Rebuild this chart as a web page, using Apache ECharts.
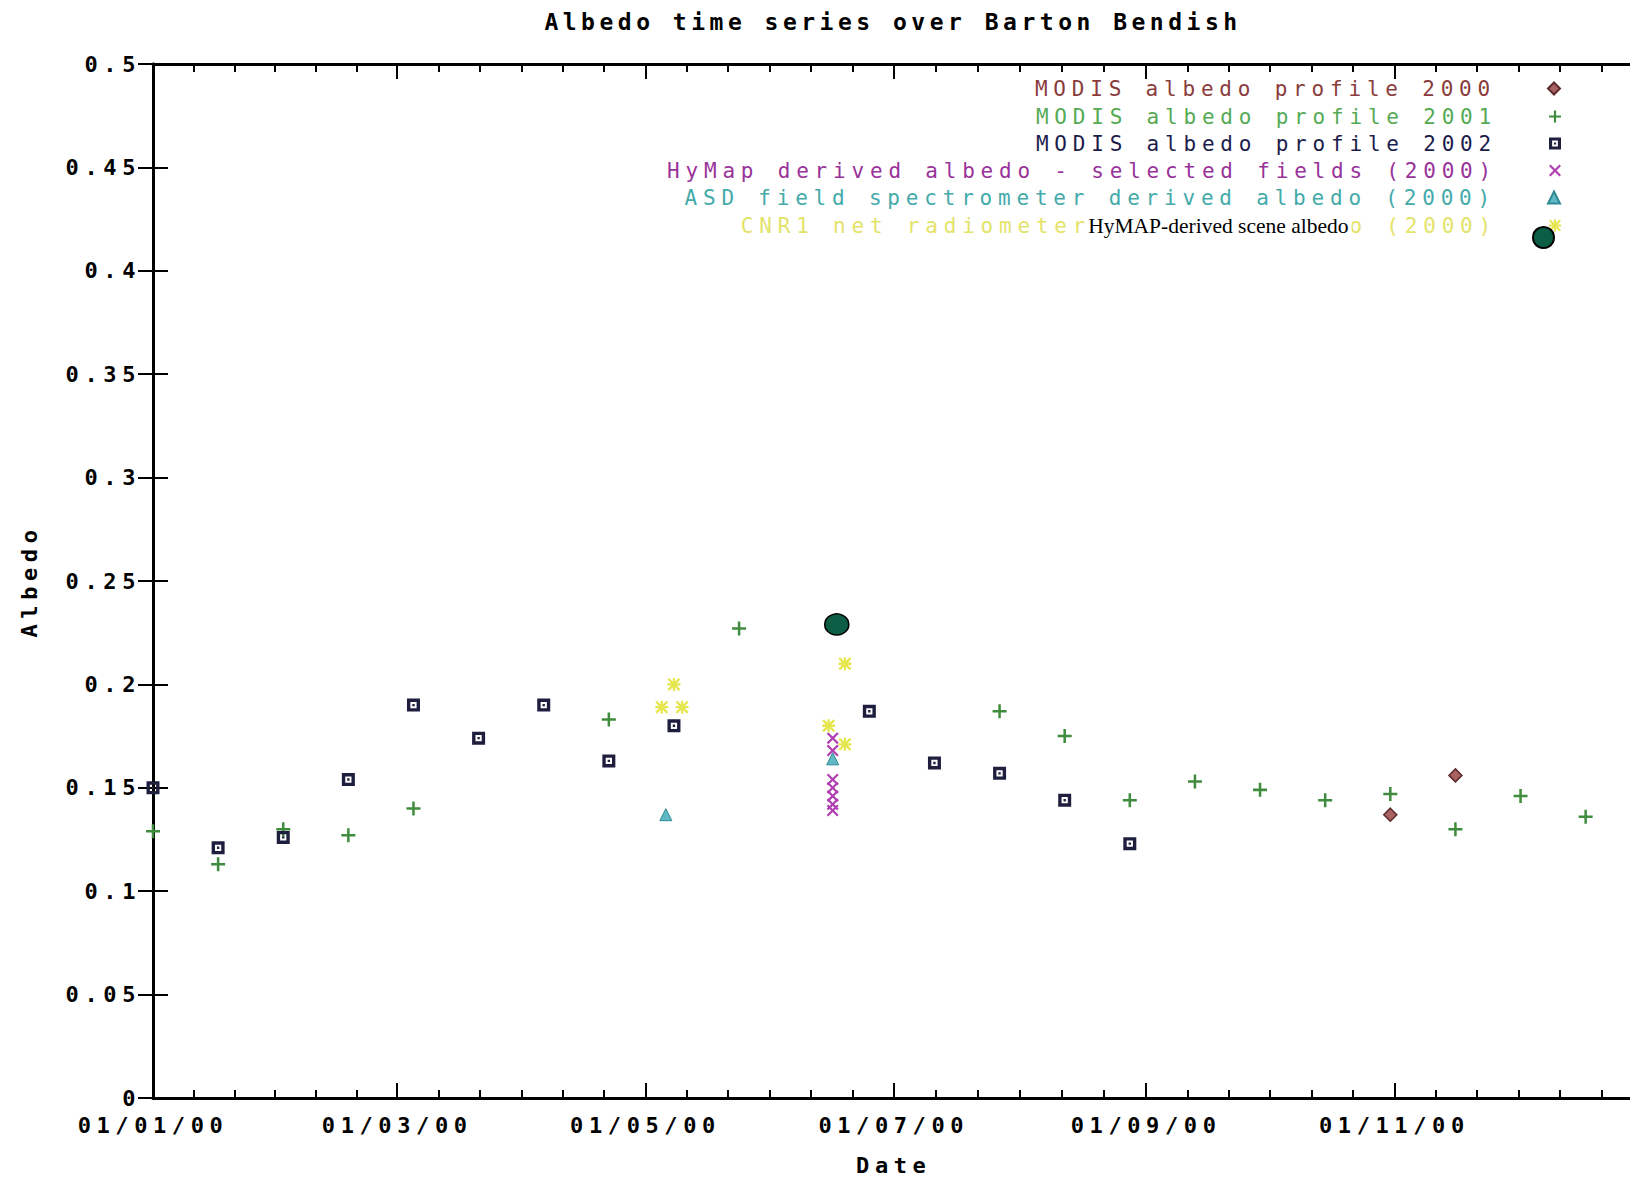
<!DOCTYPE html>
<html>
<head>
<meta charset="utf-8">
<title>Albedo time series over Barton Bendish</title>
<script src="https://cdn.jsdelivr.net/npm/echarts@6.0.0/dist/echarts.min.js"></script>
<style>
  html, body { margin: 0; padding: 0; background: #fff; }
  #chart { width: 1630px; height: 1179px; }
  /* the old gnuplot gif font is very wide, so open up the mono text */
  #chart text[style*="Mono"] { letter-spacing: 5.6px; }
  #chart text[style*="Mono"][style*="21px"] { letter-spacing: 5.8px; }
  #chart text[style*="Mono"][style*="23px"] { letter-spacing: 4.5px; }
</style>
</head>
<body>
<div id="chart"></div>
<script>
// MODIS 16-day composites, x given as day of year
const modisDoy2000 = [305, 321];
const modisVal2000 = [0.137, 0.156];
const modisDoy2001 = [1, 17, 33, 49, 65, 113, 145, 209, 225, 241, 257, 273, 289, 305, 321, 337, 353];
const modisVal2001 = [0.129, 0.113, 0.130, 0.127, 0.140, 0.183, 0.227, 0.187, 0.175, 0.144, 0.153, 0.149, 0.144, 0.147, 0.130, 0.146, 0.136];
const modisDoy2002 = [1, 17, 33, 49, 65, 81, 97, 113, 129, 177, 193, 209, 225, 241];
const modisVal2002 = [0.150, 0.121, 0.126, 0.154, 0.190, 0.174, 0.190, 0.163, 0.180, 0.187, 0.162, 0.157, 0.144, 0.123];

// field campaign 2000
const hymapDates = ['2000-06-16', '2000-06-16', '2000-06-16', '2000-06-16', '2000-06-16', '2000-06-16', '2000-06-16'];
const hymapVals = [0.174, 0.168, 0.154, 0.150, 0.146, 0.142, 0.139];
const asdDates = ['2000-05-06', '2000-06-16'];
const asdVals = [0.137, 0.164];
const cnr1Dates = ['2000-05-05', '2000-05-08', '2000-05-10', '2000-06-15', '2000-06-19', '2000-06-19'];
const cnr1Vals = [0.189, 0.200, 0.189, 0.180, 0.210, 0.171];
const sceneDates = ['2000-06-17'];
const sceneVals = [0.229];

// month ticks (the last one is only used for the minor ticks), axis ends late Dec
const tickDates = ['2000-01-01', '2000-03-01', '2000-05-01', '2000-07-01', '2000-09-01', '2000-11-01', '2001-01-01'];
const axisEnd = '2000-12-30';

const seriesNames = [
  'MODIS albedo profile 2000',
  'MODIS albedo profile 2001',
  'MODIS albedo profile 2002',
  'HyMap derived albedo - selected fields (2000)',
  'ASD field spectrometer derived albedo (2000)',
  'CNR1 net radiometer derived albedo (2000)',
  'HyMAP-derived scene albedo'
];

const MONO = 'DejaVu Sans Mono';
const T0 = Date.parse('2000-01-01');
const dayOf = s => (Date.parse(s) - T0) / 864e5;
const fromDoy = (doys, vals) => doys.map((d, i) => [d - 1, vals[i]]);
const fromDates = (dates, vals) => dates.map((d, i) => [dayOf(d), vals[i]]);

const xMax = dayOf(axisEnd);
const allMajor = tickDates.map(dayOf);
const majorDays = allMajor.filter(d => d <= xMax);
const minorDays = [];
for (let i = 0; i < allMajor.length - 1; i++) {
  const a = allMajor[i], b = allMajor[i + 1];
  for (let k = 1; k < 6; k++) {
    const m = a + (b - a) * k / 6;
    if (m < xMax) minorDays.push(m);
  }
}

function fmtDay(v) {
  const d = new Date(T0 + v * 864e5);
  const p = n => String(n).padStart(2, '0');
  return p(d.getUTCDate()) + '/' + p(d.getUTCMonth() + 1) + '/' + p(d.getUTCFullYear() % 100);
}

// marker shapes like the gnuplot points
const SQUARE = 'path://M0 0H10V10H0Z M2.6 2.6V7.4H7.4V2.6Z M4.1 4.1H5.9V5.9H4.1Z';
const PLUS_P = 'M4.1 0H5.9V4.1H10V5.9H5.9V10H4.1V5.9H0V4.1H4.1Z';
const CROSS_P = 'M0 1.3L1.3 0L5 3.7L8.7 0L10 1.3L6.3 5L10 8.7L8.7 10L5 6.3L1.3 10L0 8.7L3.7 5Z';
const PLUS = 'path://' + PLUS_P;
const CROSS = 'path://' + CROSS_P;
const STAR = 'path://' + PLUS_P + ' ' + CROSS_P;

const chart = echarts.init(document.getElementById('chart'), null, { renderer: 'svg' });

const axisLine = { show: true, lineStyle: { color: '#000', width: 3 } };
const majorTick = { show: true, inside: true, length: 15, lineStyle: { color: '#000', width: 2 } };
const minorTickStyle = { show: true, inside: true, length: 8, lineStyle: { color: '#000', width: 2 } };
const labelFont = { fontFamily: MONO, fontWeight: 'bold', fontSize: 22, color: '#000' };

function xAx(pos, minor, extra) {
  return Object.assign({
    type: 'value', position: pos, min: 0, max: xMax,
    axisLine: minor ? { show: false } : axisLine,
    axisTick: Object.assign({}, minor ? minorTickStyle : majorTick, { customValues: minor ? minorDays : majorDays }),
    axisLabel: { show: false },
    splitLine: { show: false }
  }, extra || {});
}

const legendRows = [
  { color: '#8a3c3c', top: 78 },
  { color: '#55aa55', top: 106 },
  { color: '#1c1c4c', top: 133 },
  { color: '#993399', top: 160 },
  { color: '#44aaaa', top: 187 },
  { color: '#e3e36a', top: 215 }
];

const legends = legendRows.map((r, i) => ({
  data: [{ name: seriesNames[i], textStyle: { color: r.color } }],
  orient: 'vertical', right: 69, top: r.top, align: 'right', padding: 0,
  itemWidth: 12, itemHeight: 12, selectedMode: false,
  textStyle: { fontFamily: MONO, fontSize: 21, padding: [0, 47, 0, 0] }
}));
legends.push({
  data: [{ name: seriesNames[6] }],
  orient: 'vertical', right: 75, top: 214, align: 'right', padding: 0,
  itemWidth: 24, itemHeight: 21, selectedMode: false,
  formatter: '{a|{name}}',
  textStyle: {
    padding: [0, 175, 23, 0],
    rich: { a: { fontFamily: 'Liberation Serif', fontSize: 21.5, color: '#000', backgroundColor: '#fff', padding: [1, 3] } }
  }
});

function scatter(name, symbol, size, itemStyle, data) {
  return {
    name, type: 'scatter', symbol, symbolSize: size, clip: false,
    itemStyle: Object.assign({ opacity: 1 }, itemStyle),
    emphasis: { disabled: true }, data
  };
}

chart.setOption({
  animation: false,
  backgroundColor: '#fff',
  title: {
    text: 'Albedo time series over Barton Bendish',
    left: 893, top: 10, textAlign: 'center', padding: 0,
    textStyle: { fontFamily: MONO, fontWeight: 'bold', fontSize: 23, color: '#000' }
  },
  legend: legends,
  grid: { left: 153, right: -4.5, top: 64, bottom: 81, outerBoundsMode: 'none', containLabel: false },
  xAxis: [
    xAx('bottom', false, {
      name: 'Date', nameLocation: 'middle', nameGap: 56,
      nameTextStyle: labelFont,
      axisLabel: Object.assign({ show: true, margin: 16, customValues: majorDays, formatter: fmtDay }, labelFont)
    }),
    xAx('bottom', true),
    xAx('top', false),
    xAx('top', true)
  ],
  yAxis: [
    {
      type: 'value', position: 'left', min: 0, max: 0.5, interval: 0.05,
      name: 'Albedo', nameLocation: 'middle', nameGap: 113,
      nameTextStyle: labelFont,
      axisLine, axisTick: majorTick,
      axisLabel: Object.assign({ margin: 12 }, labelFont),
      splitLine: { show: false }
    },
    {
      type: 'value', position: 'right', min: 0, max: 0.5, interval: 0.05,
      axisLine, axisTick: majorTick, axisLabel: { show: false }, splitLine: { show: false }
    }
  ],
  series: [
    scatter(seriesNames[0], 'diamond', 13, { color: '#a86262', borderColor: '#5c2a2a', borderWidth: 1.5 }, fromDoy(modisDoy2000, modisVal2000)),
    scatter(seriesNames[1], PLUS, 14, { color: '#3f8c3f' }, fromDoy(modisDoy2001, modisVal2001)),
    scatter(seriesNames[2], SQUARE, 13, { color: '#1e1e3e' }, fromDoy(modisDoy2002, modisVal2002)),
    scatter(seriesNames[3], CROSS, 12, { color: '#b040b0' }, fromDates(hymapDates, hymapVals)),
    scatter(seriesNames[4], 'triangle', 12, { color: '#5fb8c4', borderColor: '#2f8a96', borderWidth: 1 }, fromDates(asdDates, asdVals)),
    scatter(seriesNames[5], STAR, 13, { color: '#e6e650' }, fromDates(cnr1Dates, cnr1Vals)),
    scatter(seriesNames[6], 'circle', [24, 21], { color: '#0b5e44', borderColor: '#000', borderWidth: 1.5 }, fromDates(sceneDates, sceneVals))
  ]
});
</script>
</body>
</html>
